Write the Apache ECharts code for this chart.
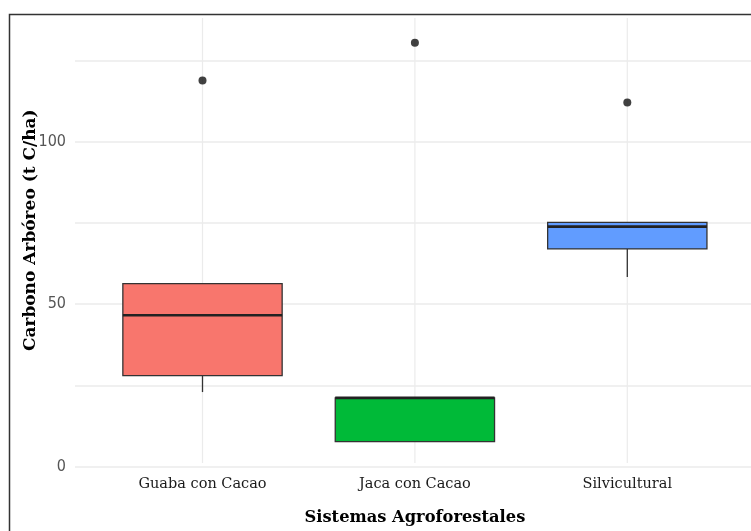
<!DOCTYPE html>
<html>
<head>
<meta charset="utf-8">
<script src="https://cdn.jsdelivr.net/npm/echarts@6/dist/echarts.min.js"></script>
<style>html,body{margin:0;padding:0;background:#fff}#c{width:751px;height:531px}</style>
</head>
<body>
<div id="c"></div>
<script>
const categories = ['Guaba con Cacao', 'Jaca con Cacao', 'Silvicultural'];
const lowerWhisker = [22.0, 6.6, 57.7];
const q1 = [27.1, 6.6, 66.4];
const median = [45.8, 20.2, 73.3];
const q3 = [55.6, 20.2, 74.6];
const upperWhisker = [55.6, 20.2, 74.6];
const outliers = [[0, 118.6], [1, 130.3], [2, 111.8]];
const fillColors = ['#F8766D', '#00BA38', '#619CFF'];
const yTicks = [0, 50, 100];

const yMin = 0, yMax = 138;
const boxData = categories.map((c, i) => [i, lowerWhisker[i], q1[i], median[i], q3[i], upperWhisker[i]]);

const chart = echarts.init(document.getElementById('c'), null, {renderer: 'canvas'});
const serif = '"DejaVu Serif", "Liberation Serif", serif';
chart.setOption({
  animation: false,
  backgroundColor: '#fff',
  graphic: [{
    type: 'rect', left: 7, top: 12, shape: {width: 760, height: 530},
    style: {fill: 'none', stroke: '#333', lineWidth: 1.5}, z: 100
  }],
  grid: [
    {left: 75, right: -4, top: 18, bottom: 64.5},
    {left: 96.3, right: 17.5, top: 18, bottom: 64.5}
  ],
  xAxis: [
    {gridIndex: 0, type: 'value', min: 0, max: 1, show: false},
    {gridIndex: 1, type: 'category', data: categories,
     axisLine: {show: false}, axisTick: {show: false}, splitLine: {show: false},
     axisLabel: {color: '#1a1a1a', fontFamily: serif, fontSize: 14.5, margin: 14},
     name: 'Sistemas Agroforestales', nameLocation: 'middle', nameGap: 47, nameMoveOverlap: false,
     nameTextStyle: {fontFamily: serif, fontWeight: 'bold', fontSize: 16.3, color: '#000'}}
  ],
  yAxis: [
    {gridIndex: 0, type: 'value', min: yMin, max: yMax, interval: 25,
     axisLine: {show: false}, axisTick: {show: false},
     axisLabel: {color: '#555', fontFamily: '"Liberation Sans Narrow", "DejaVu Sans Condensed", "Liberation Sans", Arial, sans-serif', fontSize: 16, margin: 9,
       formatter: v => yTicks.includes(v) ? String(v) : ''},
     splitLine: {show: true, showMaxLine: false, lineStyle: {color: '#ebebeb', width: 1.6}},
     name: 'Carbono Arbóreo (t C/ha)', nameLocation: 'middle', nameGap: 36, nameMoveOverlap: false,
     nameTextStyle: {fontFamily: serif, fontWeight: 'bold', fontSize: 17, color: '#000', padding: [0, 0, 0, 24]}},
    {gridIndex: 1, type: 'value', min: yMin, max: yMax, show: false}
  ],
  series: [
    {
      type: 'custom', xAxisIndex: 1, yAxisIndex: 1, data: boxData, z: 2,
      encode: {x: 0, y: [1, 2, 3, 4, 5]},
      renderItem: function (params, api) {
        const i = api.value(0);
        const cs = params.coordSys;
        const cx = api.coord([i, 0])[0];
        const w = api.size([1, 0])[0] * 0.75;
        const pLo = api.coord([i, api.value(1)]);
        const pQ1 = api.coord([i, api.value(2)]);
        const pMed = api.coord([i, api.value(3)]);
        const pQ3 = api.coord([i, api.value(4)]);
        const pHi = api.coord([i, api.value(5)]);
        const stroke = '#333';
        return {
          type: 'group',
          children: [
            {type: 'line', shape: {x1: cx, y1: cs.y, x2: cx, y2: cs.y + cs.height}, style: {stroke: '#ebebeb', lineWidth: 1.2}},
            {type: 'line', shape: {x1: cx, y1: pLo[1], x2: cx, y2: pQ1[1]}, style: {stroke: stroke, lineWidth: 1.3}},
            {type: 'line', shape: {x1: cx, y1: pQ3[1], x2: cx, y2: pHi[1]}, style: {stroke: stroke, lineWidth: 1.3}},
            {type: 'rect', shape: {x: cx - w / 2, y: pQ3[1], width: w, height: pQ1[1] - pQ3[1]},
             style: {fill: fillColors[i], stroke: stroke, lineWidth: 1.3}},
            {type: 'line', shape: {x1: cx - w / 2, y1: pMed[1], x2: cx + w / 2, y2: pMed[1]}, style: {stroke: '#222', lineWidth: 2.6}}
          ]
        };
      }
    },
    {
      type: 'scatter', xAxisIndex: 1, yAxisIndex: 1, data: outliers, z: 3,
      symbolSize: 8, itemStyle: {color: '#111'}
    }
  ]
});
</script>
</body>
</html>
